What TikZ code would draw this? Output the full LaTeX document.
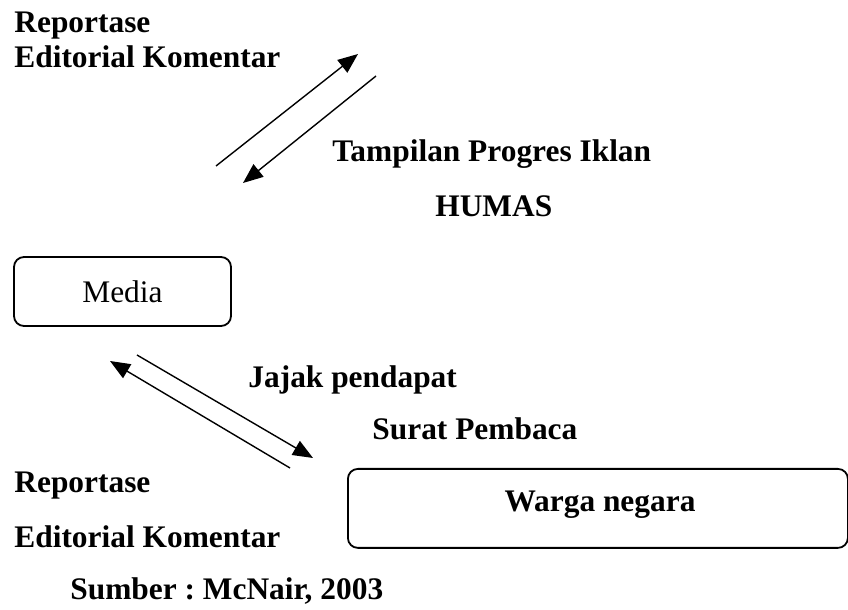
\documentclass[tikz,border=0pt]{standalone}
\usepackage{fontspec}
\setmainfont{Liberation Serif}
\usetikzlibrary{arrows.meta}
\frenchspacing
\tikzset{
  lbl/.style={anchor=base west,inner sep=0pt,font=\fontsize{15.7}{18}\selectfont\bfseries},
  kotak/.style={draw,line width=0.9pt,rounded corners=5pt,inner sep=0pt},
  panah/.style={line width=0.7pt,-{Triangle[length=10pt,width=8pt]}}
}
\begin{document}
\begin{tikzpicture}[x=0.5pt,y=-0.5pt]
\useasboundingbox (0,0) rectangle (848,610);
% teks atas
\node[lbl] (rep1) at (14,33) {Reportase};
\node[lbl] (edi1) at (14,68) {Editorial Komentar};
\node[lbl] (tamp) at (332,162) {Tampilan Progres Iklan};
\node[lbl] (humas) at (435,217) {HUMAS};
% kotak
\node[kotak,minimum width=108.5pt,minimum height=34.5pt] (media) at (122.5,291.5) {\fontsize{15.7}{18}\selectfont Media};
\node[kotak,minimum width=250pt,minimum height=39.5pt,anchor=north west] (warga) at (347,468) {};
\node[font=\fontsize{15.7}{18}\selectfont\bfseries,inner sep=0pt,anchor=base] (wargat) at (600,511) {Warga negara};
% teks bawah
\node[lbl] (jajak) at (248,388) {Jajak pendapat};
\node[lbl] (surat) at (372,440) {Surat Pembaca};
\node[lbl] (rep2) at (14,493) {Reportase};
\node[lbl] (edi2) at (14,547) {Editorial Komentar};
\node[lbl] (sumber) at (70,600) {Sumber : McNair, 2003};
% panah
\coordinate (a1) at (216,166);
\coordinate (a2) at (358,54);
\coordinate (b1) at (376,76);
\coordinate (b2) at (243,183);
\coordinate (c1) at (290,468);
\coordinate (c2) at (110,361);
\coordinate (d1) at (137,355);
\coordinate (d2) at (313,458);
\draw[panah] (a1) -- (a2);
\draw[panah] (b1) -- (b2);
\draw[panah] (c1) -- (c2);
\draw[panah] (d1) -- (d2);
\end{tikzpicture}
\end{document}
